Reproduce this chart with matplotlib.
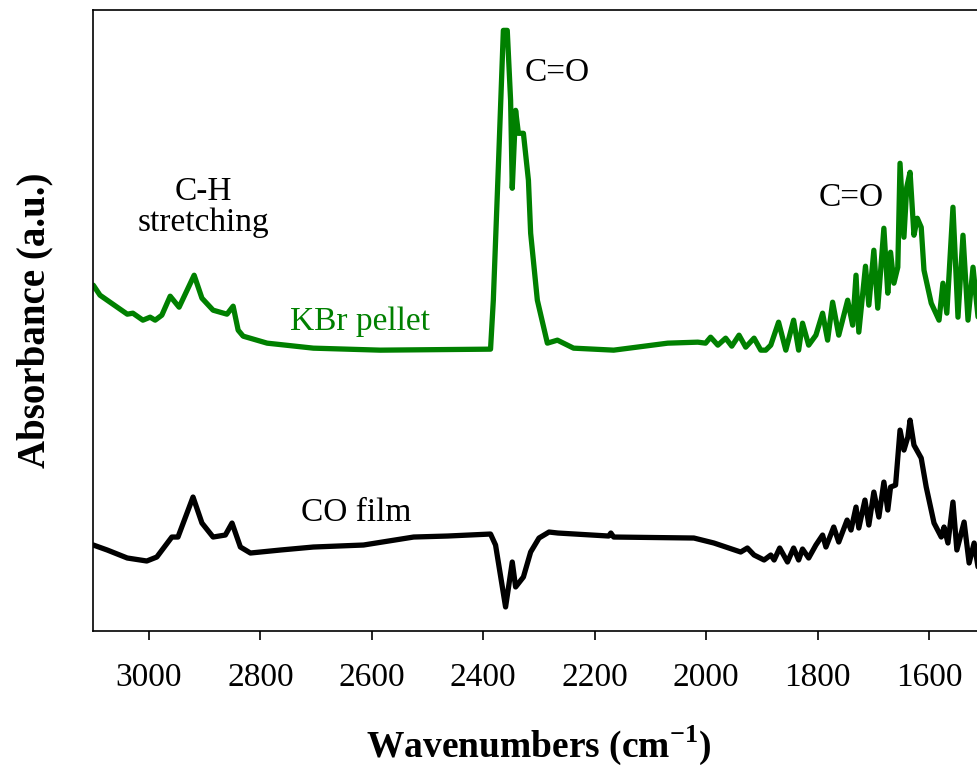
import matplotlib
matplotlib.use('Agg')
import matplotlib.pyplot as plt

plt.rcParams['font.family'] = 'Liberation Serif'
plt.rcParams['mathtext.fontset'] = 'custom'
plt.rcParams['mathtext.rm'] = 'Liberation Serif'
plt.rcParams['mathtext.bf'] = 'Liberation Serif:bold'

# KBr pellet spectrum (offset upwards)
kbr_wn = [3100, 3088, 3070, 3039, 3029, 3011, 2998, 2989, 2977, 2962, 2946, 2919, 2905, 2885,
          2860, 2849, 2840, 2831, 2788, 2705, 2585, 2387, 2382, 2373, 2364, 2357, 2351, 2348,
          2342, 2337, 2328, 2319, 2315, 2303, 2285, 2267, 2238, 2166, 2069, 2015, 2001, 1992,
          1979, 1965, 1954, 1941, 1929, 1914, 1902, 1893, 1884, 1870, 1857, 1843, 1834, 1827,
          1816, 1803, 1791, 1782, 1773, 1762, 1746, 1737, 1731, 1726, 1714, 1708, 1699, 1692,
          1681, 1674, 1669, 1663, 1656, 1652, 1645, 1640, 1634, 1627, 1621, 1614, 1609, 1596,
          1582, 1575, 1568, 1557, 1548, 1539, 1530, 1521, 1512, 1505]
kbr_abs = [3.46, 3.36, 3.29, 3.17, 3.18, 3.11, 3.14, 3.11, 3.16, 3.35, 3.24, 3.56, 3.33, 3.21,
           3.17, 3.25, 3.01, 2.95, 2.88, 2.83, 2.81, 2.82, 3.31, 4.64, 6.01, 6.01, 5.31, 4.43,
           5.21, 4.98, 4.98, 4.51, 3.98, 3.31, 2.88, 2.91, 2.83, 2.81, 2.88, 2.89, 2.88, 2.94,
           2.86, 2.93, 2.85, 2.96, 2.84, 2.93, 2.81, 2.81, 2.86, 3.09, 2.81, 3.11, 2.81, 3.08,
           2.86, 2.96, 3.18, 2.91, 3.29, 2.96, 3.31, 3.06, 3.56, 2.99, 3.65, 3.26, 3.81, 3.23,
           4.03, 3.38, 3.79, 3.48, 3.64, 4.68, 3.94, 4.44, 4.59, 3.96, 4.13, 4.04, 3.61, 3.28,
           3.11, 3.48, 3.18, 4.24, 3.14, 3.96, 3.11, 3.64, 3.14, 3.30]

# CO film spectrum
film_wn = [3100, 3075, 3039, 3004, 2986, 2959, 2948, 2921, 2905, 2885, 2863, 2851, 2836, 2818,
           2764, 2705, 2615, 2525, 2464, 2387, 2378, 2360, 2348, 2342, 2328, 2315, 2300, 2282,
           2266, 2175, 2171, 2166, 2022, 1986, 1938, 1926, 1914, 1896, 1884, 1878, 1868, 1854,
           1843, 1834, 1827, 1816, 1803, 1791, 1785, 1771, 1762, 1747, 1740, 1731, 1726, 1715,
           1708, 1699, 1690, 1681, 1674, 1669, 1660, 1652, 1645, 1638, 1634, 1627, 1614, 1605,
           1591, 1578, 1573, 1566, 1557, 1550, 1537, 1528, 1519, 1512, 1505]
film_abs = [0.86, 0.81, 0.73, 0.70, 0.74, 0.94, 0.94, 1.34, 1.08, 0.94, 0.96, 1.08, 0.84, 0.78,
            0.81, 0.84, 0.86, 0.94, 0.95, 0.97, 0.86, 0.24, 0.69, 0.44, 0.54, 0.79, 0.93, 0.99,
            0.98, 0.95, 0.98, 0.94, 0.93, 0.88, 0.79, 0.83, 0.76, 0.71, 0.76, 0.71, 0.83, 0.69,
            0.83, 0.71, 0.82, 0.73, 0.86, 0.96, 0.84, 1.04, 0.89, 1.11, 1.01, 1.24, 1.03, 1.31,
            1.06, 1.39, 1.14, 1.49, 1.21, 1.44, 1.46, 2.01, 1.81, 1.94, 2.11, 1.86, 1.73, 1.44,
            1.08, 0.94, 1.04, 0.88, 1.29, 0.81, 1.09, 0.68, 0.88, 0.64, 0.80]

x_ticks = [3000, 2800, 2600, 2400, 2200, 2000, 1800, 1600]

fig = plt.figure(figsize=(9.77, 7.69), dpi=100)
ax = fig.add_axes([0.0955, 0.1795, 0.9124, 0.807])

ax.plot(kbr_wn, kbr_abs, color='#008000', lw=3.8, solid_joinstyle='round', solid_capstyle='round')
ax.plot(film_wn, film_abs, color='black', lw=3.8, solid_joinstyle='round', solid_capstyle='round')

ax.set_xlim(3100, 1500)
ax.set_ylim(0, 6.21)
ax.set_xticks(x_ticks)
ax.set_yticks([])
ax.tick_params(axis='x', direction='out', length=6.5, width=1.2, pad=16, labelsize=24)
for s in ax.spines.values():
    s.set_linewidth(1.2)

ax.set_xlabel(r'Wavenumbers (cm$^{\mathbf{-1}}$)', fontsize=27, fontweight='bold', labelpad=22)
ax.set_ylabel('Absorbance (a.u.)', fontsize=28, fontweight='bold', labelpad=29)

ax.text(2903, 4.24, 'C-H\nstretching', fontsize=24, ha='center', va='center', linespacing=1.0)
ax.text(2267, 5.59, 'C=O', fontsize=24, ha='center', va='center')
ax.text(1740, 4.34, 'C=O', fontsize=24, ha='center', va='center')
ax.text(2621, 3.09, 'KBr pellet', fontsize=24, ha='center', va='center', color='#008000')
ax.text(2628, 1.18, 'CO film', fontsize=24, ha='center', va='center')

fig.savefig('out.png', dpi=100)
